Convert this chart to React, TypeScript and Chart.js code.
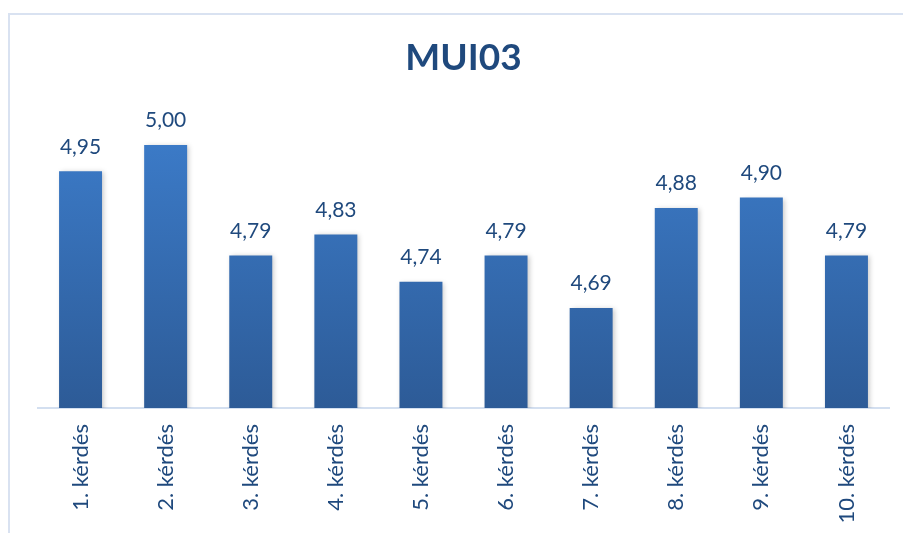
import React, { useEffect, useRef } from "react";
import { Chart, registerables } from "chart.js";

Chart.register(...registerables);

const categories = ["1. kérdés", "2. kérdés", "3. kérdés", "4. kérdés", "5. kérdés", "6. kérdés", "7. kérdés", "8. kérdés", "9. kérdés", "10. kérdés"];
const values = [4.95, 5.0, 4.79, 4.83, 4.74, 4.79, 4.69, 4.88, 4.9, 4.79];
const chartTitle = "MUI03";
const yMin = 4.5;
const yMax = 5.1;

const textColor = "#1f497d";
const frameColor = "#d9e2f1";

const framePlugin = {
  id: "frame",
  beforeDraw(chart: any) {
    const ctx = chart.ctx;
    ctx.save();
    ctx.fillStyle = "#ffffff";
    ctx.fillRect(0, 0, chart.width, chart.height);
    ctx.strokeStyle = frameColor;
    ctx.lineWidth = 2;
    ctx.beginPath();
    ctx.moveTo(9, chart.height);
    ctx.lineTo(9, 14);
    ctx.lineTo(chart.width, 14);
    ctx.stroke();
    ctx.restore();
  },
};

const shadowPlugin = {
  id: "barShadow",
  beforeDatasetsDraw(chart: any) {
    const ctx = chart.ctx;
    ctx.save();
    ctx.shadowColor = "rgba(0,0,0,0.22)";
    ctx.shadowBlur = 5;
    ctx.shadowOffsetX = 2;
    ctx.shadowOffsetY = 1;
  },
  afterDatasetsDraw(chart: any) {
    chart.ctx.restore();
  },
};

const labelPlugin = {
  id: "valueLabels",
  afterDatasetsDraw(chart: any) {
    const ctx = chart.ctx;
    const meta = chart.getDatasetMeta(0);
    ctx.save();
    ctx.fillStyle = textColor;
    ctx.font = "21px Lato";
    ctx.textAlign = "center";
    ctx.textBaseline = "bottom";
    meta.data.forEach((bar: any, i: number) => {
      const v = chart.data.datasets[0].data[i] as number;
      ctx.fillText(v.toFixed(2).replace(".", ","), bar.x, bar.y - 14);
    });
    ctx.restore();
  },
};

export default function App() {
  const ref = useRef<HTMLCanvasElement>(null);
  useEffect(() => {
    if (!ref.current) return;
    const chart = new Chart(ref.current, {
      type: "bar",
      data: {
        labels: categories,
        datasets: [
          {
            data: values,
            backgroundColor: (c: any) => {
              const area = c.chart.chartArea;
              if (!area) return "#3a74bf";
              const g = c.chart.ctx.createLinearGradient(0, area.top, 0, area.bottom);
              g.addColorStop(0, "#3e80d0");
              g.addColorStop(1, "#2d5b97");
              return g;
            },
            borderWidth: 0,
            barPercentage: 0.505,
            categoryPercentage: 1,
          },
        ],
      },
      options: {
        responsive: false,
        animation: false,
        layout: { padding: { top: 23, left: 38, right: 14, bottom: 0 } },
        plugins: {
          legend: { display: false },
          tooltip: { enabled: false },
          title: {
            display: true,
            text: chartTitle,
            color: textColor,
            font: { family: "Lato", size: 37, weight: "bold" },
            padding: { top: 13, bottom: 12 },
          },
        },
        scales: {
          y: { display: false, min: yMin, max: yMax },
          x: {
            grid: { display: false, drawTicks: false },
            border: { display: true, color: "#d3dff0", width: 2 },
            ticks: {
              color: textColor,
              font: { family: "Lato", size: 22 },
              minRotation: 90,
              maxRotation: 90,
              padding: 16,
            },
            afterFit(scale: any) {
              scale.height = 125;
            },
          },
        },
      },
      plugins: [framePlugin, shadowPlugin, labelPlugin],
    });
    return () => chart.destroy();
  }, []);
  return (
    <div style={{ position: "fixed", left: 0, top: 0, width: 903, height: 533 }}>
      <canvas ref={ref} width={903} height={533} style={{ display: "block" }} />
    </div>
  );
}
